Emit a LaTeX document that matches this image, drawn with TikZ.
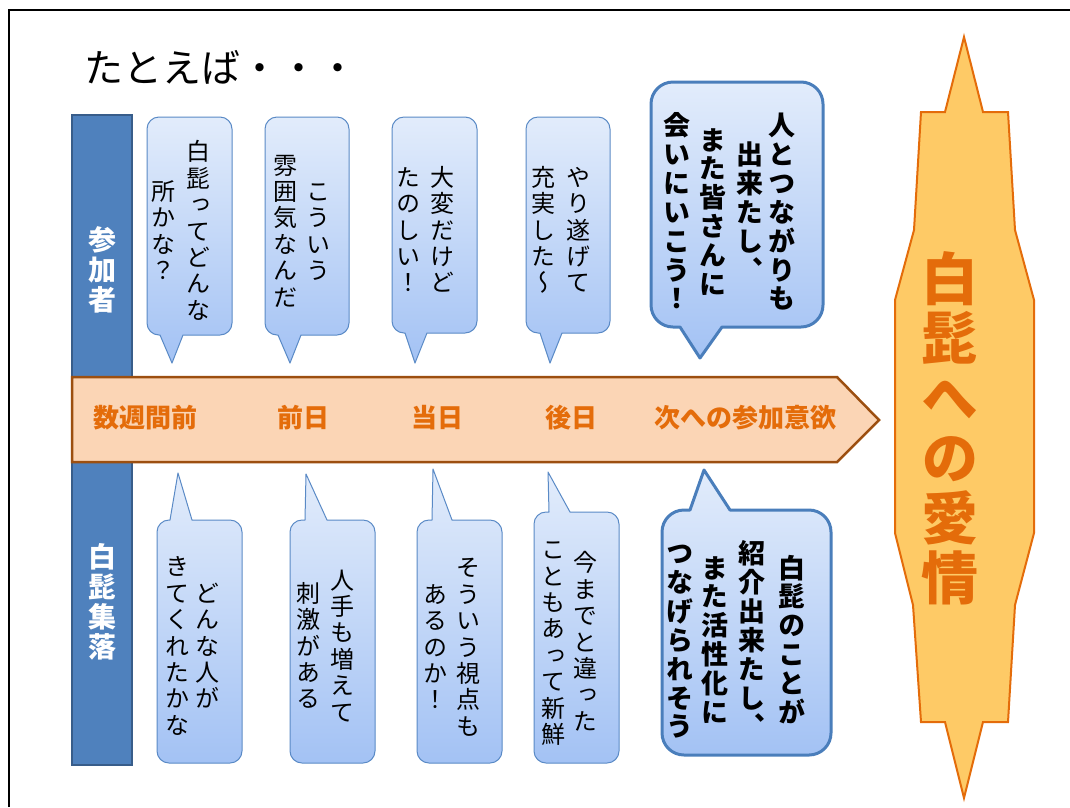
\documentclass[tikz,border=0pt]{standalone}
\usepackage{fontspec}
\newfontfamily\jph{Noto Sans CJK JP}
\newfontfamily\jpv[RawFeature={+vert}]{Noto Sans CJK JP}
\newcommand\vch[2]{\hbox to 1em{\hss\vrule height \dimexpr 0.38em+#1em/2\relax depth \dimexpr #1em/2-0.38em\relax width 0pt\relax #2\hss}}
\ExplSyntaxOn
\NewDocumentCommand\vcol{O{1.1}m}{\vbox{\offinterlineskip\tl_map_inline:nn{#2}{\vch{#1}{##1}}}}
\ExplSyntaxOff
\definecolor{bubtop}{HTML}{E2ECFB}
\definecolor{bubbot}{HTML}{A3C2F4}
\definecolor{bubline}{HTML}{5A8AC6}
\definecolor{bubthick}{HTML}{4A7EBB}
\definecolor{barfill}{HTML}{4F81BD}
\definecolor{barline}{HTML}{385D8A}
\definecolor{arrfill}{HTML}{FBD5B5}
\definecolor{arrline}{HTML}{9C4F10}
\definecolor{orangetxt}{HTML}{E46C0A}
\definecolor{lovefill}{HTML}{FECA66}
\def\bubr{12pt}
% #1 style, #2 x1, #3 y1, #4 x2, #5 y2, #6 b1, #7 b2, #8 tip x, #9 tip y
\newcommand\bubdown[9]{%
  \path[#1] (#8,#9) -- (#7,#5) [rounded corners=\bubr] -- (#4,#5) -- (#4,#3) -- (#2,#3) -- (#2,#5) [sharp corners] -- (#6,#5) -- cycle;}
\newcommand\bubup[9]{%
  \path[#1] (#8,#9) -- (#6,#3) [rounded corners=\bubr] -- (#2,#3) -- (#2,#5) -- (#4,#5) -- (#4,#3) [sharp corners] -- (#7,#3) -- cycle;}
\begin{document}
\begin{tikzpicture}[x=1pt,y=-1pt,
  bub/.style={draw=bubline, line width=1pt, top color=bubtop, bottom color=bubbot, line join=round},
  bubt/.style={draw=bubthick, line width=3pt, top color=bubtop, bottom color=bubbot, line join=round},
  bar/.style={fill=barfill, draw=barline, line width=1.5pt},
  barlbl/.style={inner sep=0pt, text=white, font=\jpv\bfseries\fontsize{28}{28}\selectfont},
  arrowbody/.style={fill=arrfill, draw=arrline, line width=2.5pt},
  arrlbl/.style={inner sep=0pt, text=orangetxt, font=\jph\bfseries\fontsize{26}{26}\selectfont},
  vt/.style={inner sep=0pt, text=black, font=\jpv\fontsize{24}{24}\selectfont},
  vb/.style={inner sep=0pt, text=black, font=\jpv\bfseries\fontsize{27}{27}\selectfont},
  love/.style={fill=lovefill, draw=orangetxt, line width=2pt},
  lovelbl/.style={inner sep=0pt, text=orangetxt, font=\jpv\bfseries\fontsize{57}{57}\selectfont}]
\useasboundingbox (0,0) rectangle (1070,807);
\fill[white] (0,0) rectangle (1070,807);
\draw[line width=2pt] (9,807) -- (9,10) -- (1070,10);
\node[anchor=west, inner sep=0pt, font=\jph\fontsize{39}{39}\selectfont] (title) at (84,67) {たとえば・・・};

% side bars
\path[bar] (72,115) rectangle (132,385);
\path[bar] (72,455) rectangle (132,765);
\node[barlbl] (lblA) at (102,270) {\vcol[1.07]{参加者}};
\node[barlbl] (lblB) at (102,602) {\vcol[1.07]{白髭集落}};

% time arrow
\path[arrowbody] (72,377) -- (837,377) -- (879,420) -- (837,462) -- (72,462) -- cycle;
\node[arrlbl] (t1) at (145,418) {数週間前};
\node[arrlbl] (t2) at (303,418) {前日};
\node[arrlbl] (t3) at (437,418) {当日};
\node[arrlbl] (t4) at (571,418) {後日};
\node[arrlbl] (t5) at (745,418) {次への参加意欲};

% top bubbles
\bubdown{bub}{147}{117}{232}{335}{160}{183}{172}{363}
\bubdown{bub}{265}{117}{349}{335}{278}{301}{290}{363}
\bubdown{bub}{392}{117}{477}{333}{405}{427}{415}{363}
\bubdown{bub}{526}{117}{610}{333}{540}{562}{550}{363}
\def\bubr{22pt}
\bubdown{bubt}{651}{82}{823}{327}{680}{722}{700}{358}
\def\bubr{12pt}

% bottom bubbles
\bubup{bub}{157}{520}{242}{763}{170}{192}{178}{473}
\bubup{bub}{290}{520}{375}{763}{305}{327}{306}{474}
\bubup{bub}{417}{520}{502}{763}{432}{452}{433}{469}
\bubup{bub}{534}{512}{619}{763}{549}{570}{548}{472}
\def\bubr{22pt}
\bubup{bubt}{662}{510}{831}{755}{690}{730}{704}{470}
\def\bubr{12pt}

% texts of top bubbles
\node[vt] (b1a) at (198,231) {\vcol{白髭ってどんな}};
\node[vt] (b1b) at (163,231) {\vcol{所かな？}};
\node[vt] (b2a) at (318,231) {\vcol{こういう}};
\node[vt] (b2b) at (285,231) {\vcol{雰囲気なんだ}};
\node[vt] (b3a) at (442,230) {\vcol{大変だけど}};
\node[vt] (b3b) at (408,230) {\vcol{たのしい！}};
\node[vt] (b4a) at (578,230) {\vcol{やり遂げて}};
\node[vt] (b4b) at (543,230) {\vcol{充実した〜}};
\node[vb] (b5a) at (782,212) {\vcol[1.07]{人とつながりも}};
\node[vb] (b5b) at (750,212) {\vcol[1.07]{出来たし、}};
\node[vb] (b5c) at (713,212) {\vcol[1.07]{また皆さんに}};
\node[vb] (b5d) at (677,212) {\vcol[1.07]{会いにいこう！}};

% texts of bottom bubbles
\node[vt] (b6a) at (207,646) {\vcol{どんな人が}};
\node[vt] (b6b) at (177,646) {\vcol{きてくれたかな}};
\node[vt] (b7a) at (342,646) {\vcol{人手も増えて}};
\node[vt] (b7b) at (308,646) {\vcol{刺激がある}};
\node[vt] (b8a) at (468,647) {\vcol{そういう視点も}};
\node[vt] (b8b) at (435,647) {\vcol{あるのか！}};
\node[vt] (b9a) at (585,642) {\vcol{今までと違った}};
\node[vt] (b9b) at (553,642) {\vcol{こともあって新鮮}};
\node[vb] (b10a) at (792,640) {\vcol[1.07]{白髭のことが}};
\node[vb] (b10b) at (752,640) {\vcol[1.07]{紹介出来たし、}};
\node[vb] (b10c) at (715,640) {\vcol[1.07]{また活性化に}};
\node[vb] (b10d) at (680,640) {\vcol[1.07]{つなげられそう}};

% love shape
\path[love] (964,37) -- (983,112) -- (1008,112) -- (1015,230) -- (1034,300) -- (1034,533) -- (1015,605) -- (1008,722) -- (983,722) -- (964,798) -- (945,722) -- (921,722) -- (913,605) -- (895,533) -- (895,300) -- (914,230) -- (921,112) -- (945,112) -- cycle;
\node[lovelbl] (lovetxt) at (950,428) {\vcol[1.05]{白髭への愛情}};
\end{tikzpicture}
\end{document}
